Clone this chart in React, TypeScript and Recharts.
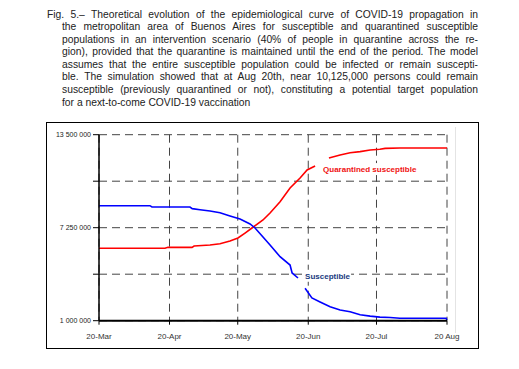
import React from 'react';
import { LineChart, Line, XAxis, YAxis, CartesianGrid, ReferenceDot } from 'recharts';

// days counted from 20-Mar, values in millions of persons
const susceptibleDays = [0, 22.4, 23.3, 40, 41, 44.4, 48.8, 53.2, 57.6, 62, 66.4, 68.6, 72.1, 75.2, 79.6, 84, 84.9, 87.5, 89, 90.6, 93.6, 97.2, 101.6, 106, 110.4, 114.8, 119.2, 123.5, 128, 132.3, 152.6, 153];
const susceptibleValues = [8.73, 8.73, 8.64, 8.64, 8.53, 8.46, 8.37, 8.26, 8.04, 7.83, 7.5, 7.23, 6.62, 6.09, 5.3, 4.74, 4.21, 3.87, null, 3.18, 2.53, 2.26, 1.94, 1.72, 1.6, 1.4, 1.31, 1.24, 1.22, 1.16, 1.16, 1.05];

const quarantinedDays = [0, 29, 30.3, 40.9, 41.8, 48.8, 53.2, 57.6, 61.1, 64.2, 67.7, 72.1, 75.2, 79.6, 84, 88.4, 91.5, 95, 98, 101.1, 106, 110.4, 114.8, 119.2, 123.5, 125.8, 132.3, 153];
const quarantinedValues = [5.87, 5.87, 5.93, 5.93, 6.02, 6.09, 6.17, 6.36, 6.56, 6.89, 7.28, 7.77, 8.24, 9.0, 9.92, 10.59, 11.13, 11.4, null, 11.93, 12.14, 12.29, 12.36, 12.47, 12.52, 12.58, 12.61, 12.61];

const monthTicks = [0, 31, 61, 92, 122, 153];
const monthLabels = ['20-Mar', '20-Apr', '20-May', '20-Jun', '20-Jul', '20 Aug'];
const valueTicks = [1, 4.125, 7.25, 10.375, 13.5];
const labeledValues = [1, 7.25, 13.5];

const captionLines = [
  'Fig. 5.– Theoretical evolution of the epidemiological curve of COVID-19 propagation in',
  'the metropolitan area of Buenos Aires for susceptible and quarantined susceptible',
  'populations in an intervention scenario (40% of people in quarantine across the re-',
  'gion), provided that the quarantine is maintained until the end of the period. The model',
  'assumes that the entire susceptible population could be infected or remain suscepti-',
  'ble. The simulation showed that at Aug 20th, near 10,125,000 persons could remain',
  'susceptible (previously quarantined or not), constituting a potential target population',
  'for a next-to-come COVID-19 vaccination',
];

const susceptibleData = susceptibleDays.map((d, i) => ({ day: d, value: susceptibleValues[i] }));
const quarantinedData = quarantinedDays.map((d, i) => ({ day: d, value: quarantinedValues[i] }));

const formatMillions = (v: number) => {
  if (!labeledValues.includes(v)) return '';
  return Math.round(v * 1e6).toString().replace(/\B(?=(\d{3})+(?!\d))/g, ' ');
};

const YTick = (props: any) => {
  const { x, y, payload } = props;
  return (
    <text x={x} y={y} dy="0.35em" textAnchor="end" fontSize={7} fill="#222">
      {formatMillions(payload.value)}
    </text>
  );
};

// series label drawn on a white patch so the grid does not run through it
const seriesLabel = (text: string, color: string, boxWidth: number) => (props: any) => {
  const { viewBox } = props;
  const x = viewBox.x;
  const y = viewBox.y;
  return (
    <g>
      <rect x={x - 2} y={y - 6} width={boxWidth} height={12} fill="#fff" />
      <text x={x} y={y} dy="0.35em" fontSize={8} fontWeight="bold" fill={color}>
        {text}
      </text>
    </g>
  );
};

const App: React.FC = () => {
  return (
    <div style={{ position: 'absolute', left: 0, top: 0, width: 519, height: 369, background: '#fff', fontFamily: '"Liberation Sans", Arial, sans-serif' }}>
      <div style={{ position: 'absolute', left: 47, top: 8.5, width: 431, fontSize: 10.3, lineHeight: '12.6px', color: '#222' }}>
        {captionLines.map((line, i) => (
          <div
            key={i}
            style={{
              marginLeft: i === 0 ? 0 : 15,
              textAlign: 'justify',
              textAlignLast: i === captionLines.length - 1 ? 'left' : 'justify',
              whiteSpace: 'nowrap',
            }}
          >
            {line}
          </div>
        ))}
      </div>

      <div style={{ position: 'absolute', left: 46, top: 122, width: 431, height: 225, border: '1px solid #000' }} />
      <div style={{ position: 'absolute', left: 455, top: 127, width: 1, height: 206, background: '#e4e4e4' }} />

      <div style={{ position: 'absolute', left: 0, top: 0 }}>
        <LineChart width={519} height={369} margin={{ top: 134.7, right: 72, bottom: 18.3, left: 9 }}>
          <CartesianGrid stroke="#444" strokeDasharray="8 5" />
          <XAxis
            type="number"
            dataKey="day"
            domain={[0, 153]}
            ticks={monthTicks}
            tickFormatter={(v: number) => monthLabels[monthTicks.indexOf(v)]}
            height={30}
            tickSize={4}
            tickMargin={9}
            axisLine={{ stroke: '#000', strokeWidth: 2 }}
            tickLine={{ stroke: '#000' }}
            tick={{ fontSize: 8, fill: '#333' }}
          />
          <YAxis
            type="number"
            domain={[1, 13.5]}
            ticks={valueTicks}
            width={90}
            tickSize={6}
            tickMargin={2}
            axisLine={{ stroke: '#000', strokeWidth: 1.5 }}
            tickLine={{ stroke: '#000' }}
            tick={<YTick />}
          />
          <Line data={quarantinedData} dataKey="value" stroke="#ff0000" strokeWidth={1.6} dot={false} connectNulls={false} isAnimationActive={false} />
          <Line data={susceptibleData} dataKey="value" stroke="#0000ff" strokeWidth={1.6} dot={false} connectNulls={false} isAnimationActive={false} />
          <ReferenceDot
            x={98.5}
            y={11.19}
            r={0}
            stroke="none"
            label={{ content: seriesLabel('Quarantined susceptible', '#f01010', 97) }}
          />
          <ReferenceDot
            x={90.6}
            y={4.02}
            r={0}
            stroke="none"
            label={{ content: seriesLabel('Susceptible', '#203a80', 48) }}
          />
        </LineChart>
      </div>
    </div>
  );
};

export default App;
